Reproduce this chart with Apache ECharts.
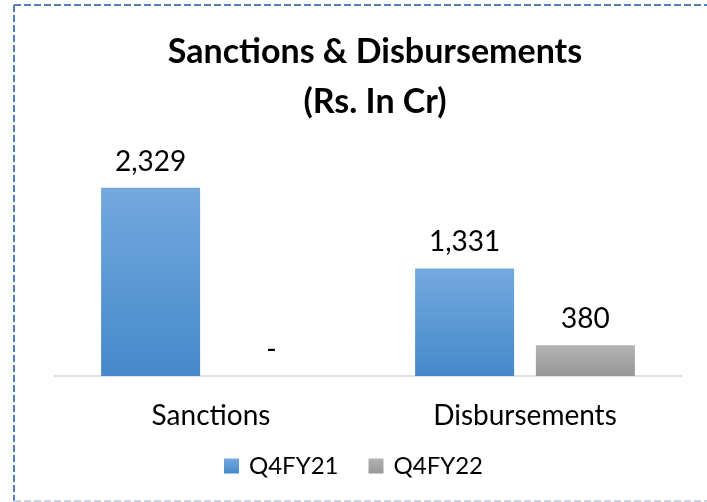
<!DOCTYPE html>
<html>
<head>
<meta charset="utf-8">
<script src="https://cdn.jsdelivr.net/npm/echarts@6/dist/echarts.min.js"></script>
<style>
  html, body { margin: 0; padding: 0; background: #fff; }
  #chart { width: 707px; height: 502px; }
</style>
</head>
<body>
<div id="chart"></div>
<script>
var categories = ['Sanctions', 'Disbursements'];
var seriesNames = ['Q4FY21', 'Q4FY22'];
var q4fy21 = [2329, 1331];
var q4fy22 = [0, 380];

var font = 'Lato, "Open Sans", sans-serif';

function grad(top, bottom) {
    return new echarts.graphic.LinearGradient(0, 0, 0, 1, [
        {offset: 0, color: top},
        {offset: 1, color: bottom}
    ]);
}

var blue = grad('#73a9dd', '#4589cb');
var gray = grad('#b3b3b3', '#979797');

var label = {
    show: true,
    position: 'top',
    distance: 12,
    color: '#000',
    fontSize: 28,
    fontFamily: font,
    formatter: function (p) {
        return p.value === 0 ? '-' : p.value.toLocaleString('en-US');
    }
};

var chart = echarts.init(document.getElementById('chart'));
chart.setOption({
    backgroundColor: '#fff',
    animation: false,
    title: {
        text: 'Sanctions & Disbursements\n(Rs. In Cr)',
        left: 370,
        textAlign: 'center',
        top: 22,
        textStyle: {
            fontFamily: font,
            fontWeight: 'bold',
            fontSize: 34,
            lineHeight: 50,
            color: '#000'
        }
    },
    legend: {
        data: seriesNames,
        left: 'center',
        top: 449,
        itemWidth: 15,
        itemHeight: 15,
        itemGap: 30,
        icon: 'rect',
        textStyle: {
            fontFamily: font,
            fontSize: 24,
            color: '#000',
            padding: [0, 0, 0, 5]
        }
    },
    grid: {
        left: 54,
        right: 25,
        top: 174,
        bottom: 126
    },
    xAxis: {
        type: 'category',
        data: categories,
        axisLine: {lineStyle: {color: '#dde2ea', width: 2}},
        axisTick: {show: false},
        axisLabel: {
            color: '#000',
            fontFamily: font,
            fontSize: 28,
            margin: 26
        }
    },
    yAxis: {
        type: 'value',
        min: 0,
        max: 2500,
        show: false,
        splitLine: {show: false}
    },
    series: [
        {
            name: seriesNames[0],
            type: 'bar',
            data: q4fy21,
            barGap: '22%',
            barCategoryGap: '30%',
            itemStyle: {color: blue},
            label: label
        },
        {
            name: seriesNames[1],
            type: 'bar',
            data: q4fy22,
            itemStyle: {color: gray},
            label: label
        }
    ],
    graphic: [
        {
            type: 'line',
            shape: {x1: 14, y1: 5, x2: 707, y2: 5},
            style: {stroke: '#4f81bd', lineWidth: 2, lineDash: [7, 3]}
        },
        {
            type: 'line',
            shape: {x1: 14, y1: 5, x2: 14, y2: 501},
            style: {stroke: '#4f81bd', lineWidth: 2, lineDash: [7, 3]}
        },
        {
            type: 'line',
            shape: {x1: 14, y1: 501, x2: 707, y2: 501},
            style: {stroke: '#c9d5e4', lineWidth: 2, lineDash: [7, 3]}
        }
    ]
});
</script>
</body>
</html>
